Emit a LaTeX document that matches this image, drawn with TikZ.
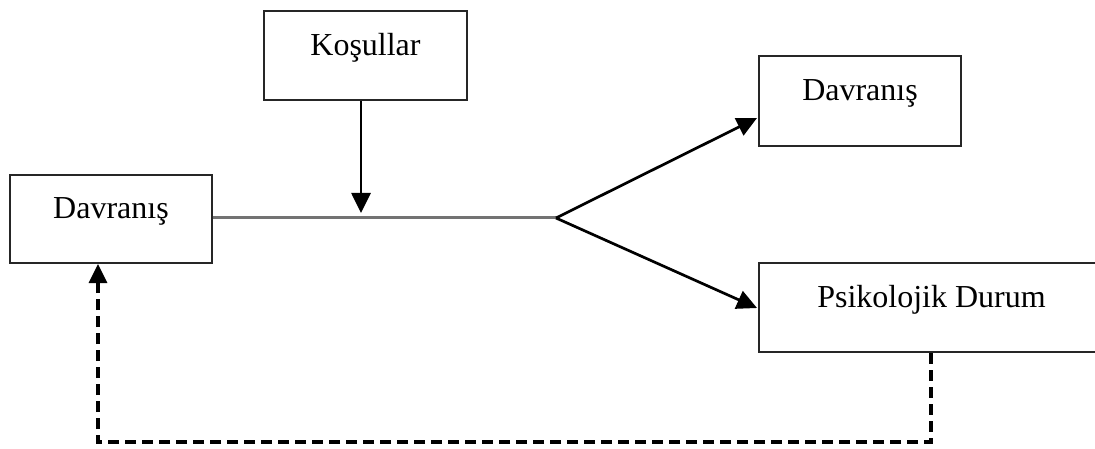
\documentclass[tikz,border=0pt]{standalone}
\usepackage{fontspec}
\setmainfont{Liberation Serif}
\usetikzlibrary{arrows.meta}

\tikzset{
  box/.style={draw=black!85, line width=2pt, fill=white, inner sep=0pt},
  lbl/.style={anchor=base, inner sep=0pt, font=\fontsize{32}{38}\selectfont},
  flow/.style={line width=2.7pt, -{Triangle[length=20pt,width=19pt]}},
  stem/.style={line width=3pt, draw=black!55},
  back/.style={line width=3.4pt, dash pattern=on 11pt off 6pt,
               -{Triangle[length=19pt,width=18pt]}},
}

\begin{document}
\begin{tikzpicture}[x=1pt, y=-1pt]
  \clip (0,0) rectangle (1095,449);
  \fill[white] (0,0) rectangle (1095,449);

  % boxes
  \node[box, minimum width=202pt, minimum height=88pt] (src)  at (111,219)   {};
  \node[box, minimum width=203pt, minimum height=89pt] (kos)  at (365.5,55.5) {};
  \node[box, minimum width=202pt, minimum height=90pt] (dav)  at (860,101)   {};
  \node[box, minimum width=345pt, minimum height=89pt] (psy)  at (931.5,307.5) {};

  % labels, baseline on each box's centre line
  \node[lbl] (srcT) at (src.center) {Davranış};
  \node[lbl] (kosT) at (kos.center) {Koşullar};
  \node[lbl] (davT) at (dav.center) {Davranış};
  \node[lbl] (psyT) at (psy.center) {Psikolojik Durum};

  % main stem and the branching point
  \coordinate (fork) at (556,218);
  \coordinate (hit)  at (361,213);
  \draw[stem] (src.east |- fork) -- (fork);

  % conditions acting on the stem
  \draw[flow] (kos.south -| hit) -- (hit);

  % two outcomes
  \coordinate (upT) at (757,118);
  \coordinate (loT) at (757,308);
  \draw[flow] (fork) -- (upT);
  \draw[flow] (fork) -- (loT);

  % feedback loop
  \coordinate (brR) at (931,442);
  \coordinate (brL) at (98,442);
  \draw[back] (psy.south -| brR) -- (brR) -- (brL) -- (brL |- src.south);
\end{tikzpicture}
\end{document}
